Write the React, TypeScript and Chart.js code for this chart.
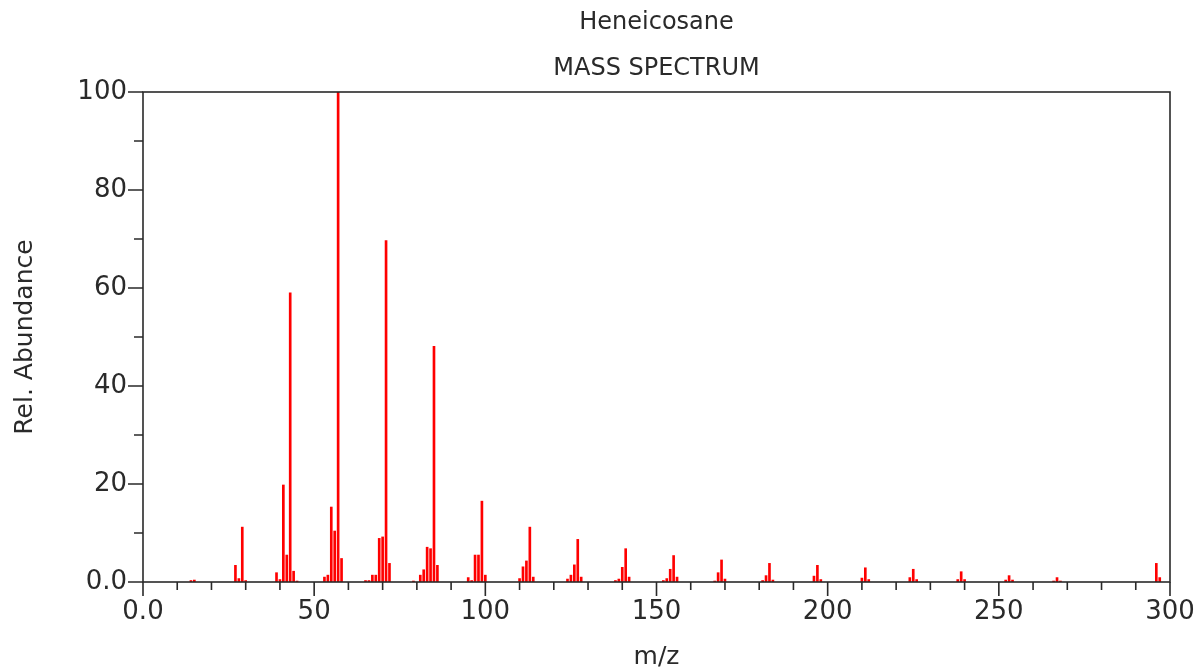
import React, { useEffect, useRef } from 'react';
import { Chart, registerables } from 'chart.js';

Chart.register(...registerables);

const TITLE_LINES = ['Heneicosane', 'MASS SPECTRUM'];
const X_TITLE = 'm/z';
const Y_TITLE = 'Rel. Abundance';

// m/z values and relative abundances
const MZ = [
  14, 15, 27, 28, 29, 30, 39, 40, 41, 42, 43, 44, 45,
  53, 54, 55, 56, 57, 58, 65, 66, 67, 68, 69, 70, 71, 72,
  79, 81, 82, 83, 84, 85, 86, 95, 96, 97, 98, 99, 100,
  110, 111, 112, 113, 114, 124, 125, 126, 127, 128,
  138, 139, 140, 141, 142, 152, 153, 154, 155, 156,
  167, 168, 169, 170, 181, 182, 183, 184, 196, 197, 198,
  210, 211, 212, 224, 225, 226, 238, 239, 240,
  252, 253, 254, 266, 267, 268, 296, 297,
];
const ABUNDANCE = [
  0.3, 0.4, 3.4, 0.7, 11.2, 0.3, 1.9, 0.5, 19.8, 5.5, 59.0, 2.2, 0.2,
  1.0, 1.4, 15.3, 10.4, 100, 4.8, 0.3, 0.3, 1.4, 1.4, 8.9, 9.2, 69.7, 3.8,
  0.2, 1.4, 2.5, 7.1, 6.8, 48.1, 3.4, 0.9, 0.3, 5.5, 5.5, 16.5, 1.4,
  0.7, 3.1, 4.3, 11.2, 1.0, 0.6, 1.4, 3.5, 8.7, 1.0,
  0.3, 0.6, 3.0, 6.8, 1.0, 0.3, 0.7, 2.6, 5.4, 1.0,
  0.2, 1.9, 4.5, 0.6, 0.3, 1.3, 3.8, 0.4, 1.2, 3.4, 0.5,
  0.8, 2.9, 0.5, 0.9, 2.6, 0.5, 0.5, 2.1, 0.5,
  0.4, 1.3, 0.4, 0.2, 0.9, 0.2, 3.8, 0.9,
];

const X_MIN = 0;
const X_MAX = 300;
const X_MAJOR = 50;
const X_MINOR = 10;
const Y_MIN = 0;
const Y_MAX = 100;
const Y_MAJOR = 20;
const Y_MINOR = 10;

const FONT = 'DejaVu Sans';
const TEXT_COLOR = '#2a2a2a';
const AXIS_COLOR = '#2a2a2a';
const PEAK_COLOR = '#ff0000';

const fmt = (v: number) => (v === 0 ? '0.0' : String(v));

const frameTicksPlugin = {
  id: 'frameTicks',
  afterDraw(chart: any) {
    const { ctx, chartArea: a, scales } = chart;
    const x = scales.x;
    const y = scales.y;
    ctx.save();
    ctx.strokeStyle = AXIS_COLOR;
    ctx.lineWidth = 1.6;
    ctx.strokeRect(a.left, a.top, a.right - a.left, a.bottom - a.top);
    ctx.beginPath();
    for (let v = X_MIN; v <= X_MAX; v += X_MINOR) {
      const px = x.getPixelForValue(v);
      const len = v % X_MAJOR === 0 ? 14 : 8;
      ctx.moveTo(px, a.bottom);
      ctx.lineTo(px, a.bottom + len);
    }
    for (let v = Y_MIN; v <= Y_MAX; v += Y_MINOR) {
      const py = y.getPixelForValue(v);
      const len = v % Y_MAJOR === 0 ? 15 : 9;
      ctx.moveTo(a.left, py);
      ctx.lineTo(a.left - len, py);
    }
    ctx.stroke();
    ctx.restore();
  },
};

export default function App() {
  const ref = useRef<HTMLCanvasElement | null>(null);

  useEffect(() => {
    if (!ref.current) return;
    const chart = new Chart(ref.current, {
      type: 'bar',
      data: {
        datasets: [
          {
            data: MZ.map((m, i) => ({ x: m, y: ABUNDANCE[i] })),
            backgroundColor: PEAK_COLOR,
            borderWidth: 0,
            barThickness: 2,
            grouped: false,
          } as any,
        ],
      },
      options: {
        animation: false,
        responsive: false,
        layout: { padding: { left: 0, top: 0, right: 30, bottom: 0 } },
        plugins: {
          legend: { display: false },
          tooltip: { enabled: false },
          title: {
            display: true,
            text: TITLE_LINES,
            color: TEXT_COLOR,
            fullSize: false,
            font: { family: FONT, size: 24, weight: 'normal', lineHeight: 46 / 24 },
            padding: { top: 0, bottom: 0 },
          } as any,
        },
        scales: {
          x: {
            type: 'linear',
            min: X_MIN,
            max: X_MAX,
            offset: false,
            grid: { display: false, drawTicks: false, offset: false },
            border: { display: false },
            ticks: {
              stepSize: X_MAJOR,
              color: TEXT_COLOR,
              font: { family: FONT, size: 26 },
              padding: 15,
              maxRotation: 0,
              callback: (v: any) => fmt(Number(v)),
            },
            title: {
              display: true,
              text: X_TITLE,
              color: TEXT_COLOR,
              font: { family: FONT, size: 25, lineHeight: 1.2 },
              padding: { top: 0, bottom: 0 },
            },
            afterFit: (s: any) => {
              s.height = 90;
              s.paddingRight = 28;
              s.paddingLeft = 20;
            },
          },
          y: {
            type: 'linear',
            min: Y_MIN,
            max: Y_MAX,
            grid: { display: false, drawTicks: false },
            border: { display: false },
            ticks: {
              stepSize: Y_MAJOR,
              color: TEXT_COLOR,
              font: { family: FONT, size: 26 },
              padding: 16,
              callback: (v: any) => fmt(Number(v)),
            },
            title: {
              display: true,
              text: Y_TITLE,
              color: TEXT_COLOR,
              font: { family: FONT, size: 25, lineHeight: 1.2 },
              padding: { top: 10, bottom: 0 },
            },
            afterFit: (s: any) => {
              s.width = 143;
            },
          },
        },
      } as any,
      plugins: [frameTicksPlugin],
    });
    return () => chart.destroy();
  }, []);

  return (
    <div style={{ position: 'absolute', left: 0, top: 0, width: 1200, height: 672, background: '#fff' }}>
      <canvas ref={ref} width={1200} height={672} />
    </div>
  );
}
